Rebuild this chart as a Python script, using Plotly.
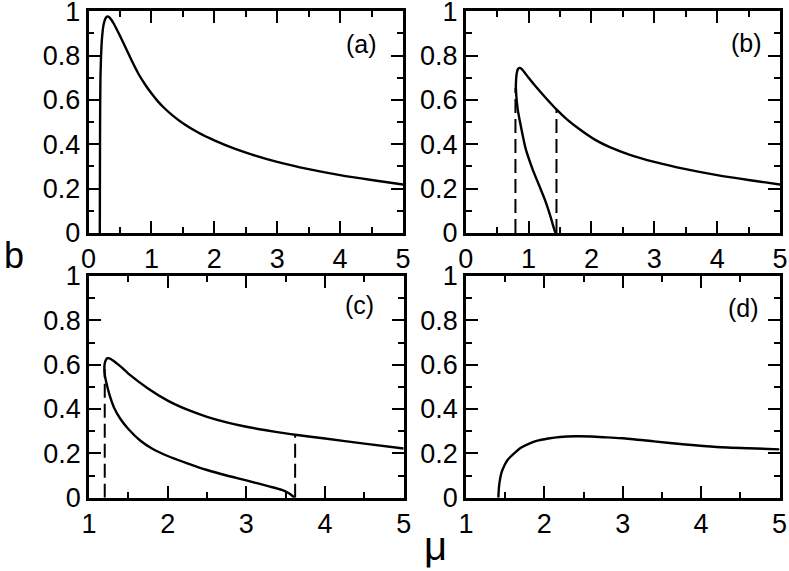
import plotly.graph_objects as go

# ---- data ----
# panel (a)
mu_a = [0.18, 0.182, 0.185, 0.19, 0.20, 0.215, 0.24, 0.27, 0.30, 0.33, 0.36, 0.40, 0.45, 0.5,
        0.6, 0.7, 0.8, 0.9, 1.0, 1.1, 1.2, 1.35, 1.5, 1.75, 2.0, 2.3, 2.6, 3.0, 3.5, 4.0, 4.5, 5.0]
b_a = [0.0, 0.3, 0.55, 0.7, 0.8, 0.88, 0.94, 0.968, 0.977, 0.973, 0.963, 0.945, 0.918, 0.89,
       0.83, 0.77, 0.715, 0.67, 0.63, 0.595, 0.565, 0.527, 0.495, 0.452, 0.418, 0.383, 0.354,
       0.321, 0.288, 0.261, 0.239, 0.219]

# panel (b): lower branch (from b=0 up to the fold) and upper branch
mu_b_low = [1.427, 1.40, 1.347, 1.268, 1.162, 1.056, 0.95, 0.871, 0.825, 0.805, 0.797]
b_b_low = [0.0, 0.023, 0.075, 0.143, 0.218, 0.293, 0.383, 0.489, 0.56, 0.615, 0.655]
mu_b_up = [0.797, 0.80, 0.81, 0.83, 0.855, 0.88, 0.92, 1.0, 1.1, 1.27, 1.45, 1.6, 1.8, 2.06,
           2.3, 2.6, 3.0, 3.5, 4.0, 4.5, 5.0]
b_b_up = [0.655, 0.69, 0.72, 0.74, 0.745, 0.742, 0.73, 0.70, 0.665, 0.61, 0.555, 0.515, 0.47, 0.42,
          0.386, 0.354, 0.321, 0.288, 0.261, 0.239, 0.219]
mu_b_dash = [0.79, 1.443]
b_b_dash = [0.655, 0.555]

# panel (c)
mu_c_low = [3.61, 3.58, 3.53, 3.45, 3.3, 3.0, 2.75, 2.5, 2.25, 2.0, 1.8, 1.65, 1.5, 1.4, 1.32,
            1.26, 1.22, 1.2, 1.195]
b_c_low = [0.0, 0.01, 0.022, 0.035, 0.05, 0.078, 0.1, 0.125, 0.155, 0.188, 0.222, 0.258, 0.31,
           0.355, 0.405, 0.465, 0.52, 0.555, 0.58]
mu_c_up = [1.195, 1.20, 1.215, 1.235, 1.26, 1.3, 1.4, 1.5, 1.75, 2.0, 2.25, 2.5, 2.75, 3.0, 3.25,
           3.5, 3.62, 4.0, 4.5, 5.0]
b_c_up = [0.58, 0.605, 0.622, 0.629, 0.628, 0.62, 0.592, 0.56, 0.493, 0.438, 0.397, 0.365, 0.34,
          0.32, 0.304, 0.29, 0.284, 0.267, 0.244, 0.222]
mu_c_dash = [1.2, 3.62]
b_c_dash = [0.58, 0.284]

# panel (d)
mu_d = [1.413, 1.42, 1.435, 1.455, 1.49, 1.53, 1.6, 1.7, 1.8, 1.9, 2.05, 2.2, 2.4, 2.6, 2.8, 3.0,
        3.4, 3.8, 4.2, 4.6, 5.0]
b_d = [0.0, 0.045, 0.085, 0.115, 0.145, 0.17, 0.195, 0.225, 0.243, 0.256, 0.267, 0.274, 0.277,
       0.276, 0.272, 0.268, 0.254, 0.24, 0.229, 0.223, 0.218]

panel_labels = ["(a)", "(b)", "(c)", "(d)"]
x_ranges = [[0, 5], [0, 5], [1, 5], [1, 5]]

W, H = 789, 571
# pixel boxes of the four panels (left, right, top, bottom)
boxes = [(88.5, 403, 11.3, 233), (465.8, 780, 11.3, 233),
         (89, 403.7, 276, 497.7), (466, 779.5, 276, 497.7)]

fig = go.Figure()
FONT = "Liberation Sans, Arial, sans-serif"
line = dict(color="black", width=2.4, shape="spline", smoothing=0.6)
dash = dict(color="black", width=2, dash="14px,6px")

fig.add_trace(go.Scatter(x=mu_a, y=b_a, mode="lines", line=line, xaxis="x", yaxis="y"))

fig.add_trace(go.Scatter(x=mu_b_low + mu_b_up[1:], y=b_b_low + b_b_up[1:], mode="lines",
                         line=line, xaxis="x2", yaxis="y2"))
for xv, yv in zip(mu_b_dash, b_b_dash):
    fig.add_trace(go.Scatter(x=[xv, xv], y=[0, yv], mode="lines", line=dash, xaxis="x2", yaxis="y2"))

fig.add_trace(go.Scatter(x=mu_c_low + mu_c_up[1:], y=b_c_low + b_c_up[1:], mode="lines",
                         line=line, xaxis="x3", yaxis="y3"))
for xv, yv in zip(mu_c_dash, b_c_dash):
    fig.add_trace(go.Scatter(x=[xv, xv], y=[0, yv], mode="lines", line=dash, xaxis="x3", yaxis="y3"))

fig.add_trace(go.Scatter(x=mu_d, y=b_d, mode="lines", line=line, xaxis="x4", yaxis="y4"))

layout = dict(width=W, height=H, margin=dict(l=0, r=0, t=0, b=0), showlegend=False,
              plot_bgcolor="white", paper_bgcolor="white",
              font=dict(family=FONT, color="black"))

common = dict(showgrid=False, zeroline=False, showline=True, linecolor="black", linewidth=2.5,
              mirror="ticks", ticks="inside", ticklen=12, tickwidth=2, tickcolor="black",
              tickfont=dict(family=FONT, size=27, color="black"), automargin=False,
              ticklabeloverflow="allow")


def ax_name(i, k):
    return k if i == 0 else f"{k}{i + 1}"


for i, (l, r, t, b) in enumerate(boxes):
    xd = [l / W, r / W]
    yd = [1 - b / H, 1 - t / H]
    layout[ax_name(i, "xaxis")] = dict(domain=xd, range=x_ranges[i], dtick=1, tick0=0,
                                       anchor=ax_name(i, "y"),
                                       minor=dict(dtick=0.5, ticklen=6, tickwidth=2, ticks="inside",
                                                  tickcolor="black"),
                                       **common)
    layout[ax_name(i, "yaxis")] = dict(domain=yd, range=[0, 1], dtick=0.2, tick0=0,
                                       anchor=ax_name(i, "x"),
                                       minor=dict(dtick=0.1, ticklen=6, tickwidth=2, ticks="inside",
                                                  tickcolor="black"),
                                       **common)

fig.update_layout(**layout)

label_pos = [(361, 43.5), (746.5, 43), (359, 304.5), (743.5, 308)]
for txt, (px, py) in zip(panel_labels, label_pos):
    fig.add_annotation(text=txt, x=px / W, y=1 - py / H, xref="paper", yref="paper",
                       showarrow=False, font=dict(family=FONT, size=25, color="black"),
                       xanchor="center", yanchor="middle")

fig.add_annotation(text="b", x=13.5 / W, y=1 - 255 / H, xref="paper", yref="paper", showarrow=False,
                   font=dict(family=FONT, size=36, color="black"), xanchor="center", yanchor="middle")
fig.add_annotation(text="μ", x=435 / W, y=1 - 546 / H, xref="paper", yref="paper", showarrow=False,
                   font=dict(family=FONT, size=40, color="black"), xanchor="center", yanchor="middle")

fig.write_html("out.html", config={"displayModeBar": False},
               post_script="document.body.style.margin='0';document.body.style.overflow='hidden';")
